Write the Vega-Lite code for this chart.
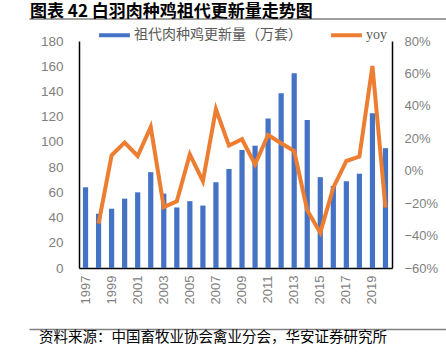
{
  "$schema": "https://vega.github.io/schema/vega-lite/v6.json",
  "padding": {"left": 29, "top": 2.5, "right": 0, "bottom": 0},
  "spacing": -3.5,
  "config": {
    "view": {"stroke": null},
    "font": "Noto Sans CJK SC"
  },
  "resolve": {"scale": {"x": "independent", "y": "independent", "color": "independent"}},
  "vconcat": [
    {
      "width": 417,
      "height": 0.01,
      "title": {
        "text": "图表 42 白羽肉种鸡祖代更新量走势图",
        "anchor": "start",
        "frame": "bounds",
        "fontSize": 17,
        "fontWeight": "bold",
        "font": "Noto Sans CJK SC",
        "color": "#000000",
        "offset": -2.5,
        "dx": -49
      },
      "data": {"values": [{"part": "header"}]},
      "mark": {"type": "rule", "opacity": 0, "strokeWidth": 0},
      "encoding": {
        "x": {
          "field": "part",
          "type": "nominal",
          "scale": {"range": [-50, 367], "paddingInner": 0, "paddingOuter": 0},
          "axis": {"orient": "bottom", "title": null, "labels": false, "ticks": false, "grid": false, "domainColor": "#7f7f7f", "domainWidth": 1.3}
        }
      }
    },
    {
      "width": 313,
      "height": 227,
      "data": {
        "values": [
          {"year": "1997", "count": 64, "yoy": null},
          {"year": "1998", "count": 43, "yoy": -0.326},
          {"year": "1999", "count": 47, "yoy": 0.095},
          {"year": "2000", "count": 55, "yoy": 0.173},
          {"year": "2001", "count": 60, "yoy": 0.091},
          {"year": "2002", "count": 76, "yoy": 0.27},
          {"year": "2003", "count": 59, "yoy": -0.224},
          {"year": "2004", "count": 48, "yoy": -0.189},
          {"year": "2005", "count": 53, "yoy": 0.101},
          {"year": "2006", "count": 49.5, "yoy": -0.064},
          {"year": "2007", "count": 68, "yoy": 0.379},
          {"year": "2008", "count": 78.5, "yoy": 0.155},
          {"year": "2009", "count": 93.6, "yoy": 0.194},
          {"year": "2010", "count": 97, "yoy": 0.039},
          {"year": "2011", "count": 118.5, "yoy": 0.22},
          {"year": "2012", "count": 138.5, "yoy": 0.169},
          {"year": "2013", "count": 154.4, "yoy": 0.121},
          {"year": "2014", "count": 117.4, "yoy": -0.244},
          {"year": "2015", "count": 72, "yoy": -0.382},
          {"year": "2016", "count": 65, "yoy": -0.105},
          {"year": "2017", "count": 68.8, "yoy": 0.06},
          {"year": "2018", "count": 74.8, "yoy": 0.087},
          {"year": "2019", "count": 122.7, "yoy": 0.646},
          {"year": "2020", "count": 95, "yoy": -0.228}
        ]
      },
      "encoding": {
        "x": {
          "field": "year",
          "type": "ordinal",
          "scale": {"paddingInner": 0.6, "paddingOuter": 0.3},
          "axis": {
            "title": null,
            "values": ["1997","1999","2001","2003","2005","2007","2009","2011","2013","2015","2017","2019"],
            "labelAngle": -90,
            "labelFontSize": 13,
            "labelFont": "Liberation Sans",
            "labelColor": "#7f7f7f",
            "ticks": false,
            "labelPadding": 7,
            "minExtent": 61,
            "domainColor": "#000000",
            "domainWidth": 1.5
          }
        }
      },
      "layer": [
        {
          "mark": {"type": "bar"},
          "encoding": {
            "y": {
              "field": "count",
              "type": "quantitative",
              "scale": {"domain": [0, 180]},
              "axis": {
                "title": null,
                "values": [0, 20, 40, 60, 80, 100, 120, 140, 160, 180],
                "grid": false,
                "ticks": false,
                "labelFontSize": 13.5,
                "labelFont": "Liberation Sans",
                "labelColor": "#7f7f7f",
                "labelPadding": 16,
                "minExtent": 50,
                "domainColor": "#000000",
                "domainWidth": 1.5
              }
            },
            "color": {
              "datum": "祖代肉种鸡更新量（万套）",
              "scale": {"domain": ["祖代肉种鸡更新量（万套）", "yoy"], "range": ["#4472C4", "#ED7D31"]},
              "legend": {
                "orient": "none",
                "legendX": 18,
                "legendY": -23.5,
                "direction": "horizontal",
                "title": null,
                "symbolType": "stroke",
                "symbolSize": 950,
                "symbolStrokeWidth": 4,
                "labelFontSize": 14,
                "labelColor": "#595959",
                "labelFont": "Liberation Serif, Noto Sans CJK SC",
                "labelLimit": 400,
                "columnPadding": 21,
                "labelOffset": 2,
                "padding": 0
              }
            }
          }
        },
        {
          "mark": {"type": "line", "strokeWidth": 4},
          "encoding": {
            "y": {
              "field": "yoy",
              "type": "quantitative",
              "scale": {"domain": [-0.6, 0.8]},
              "axis": {
                "orient": "right",
                "title": null,
                "format": ".0%",
                "values": [-0.6, -0.4, -0.2, 0, 0.2, 0.4, 0.6, 0.8],
                "grid": false,
                "ticks": false,
                "labelFontSize": 13,
                "labelFont": "Liberation Sans",
                "labelColor": "#7f7f7f",
                "labelPadding": 12,
                "domainColor": "#000000",
                "domainWidth": 1.5
              }
            },
            "color": {"datum": "yoy"}
          }
        }
      ],
      "resolve": {"scale": {"y": "independent"}}
    },
    {
      "width": 417,
      "height": 0.01,
      "title": {
        "text": "资料来源：中国畜牧业协会禽业分会，华安证券研究所",
        "orient": "bottom",
        "anchor": "start",
        "frame": "bounds",
        "fontSize": 14.5,
        "fontWeight": "normal",
        "font": "Noto Sans CJK SC",
        "color": "#000000",
        "offset": 2,
        "dx": -40
      },
      "data": {"values": [{"part": "footer"}]},
      "mark": {"type": "rule", "opacity": 0, "strokeWidth": 0},
      "encoding": {
        "x": {
          "field": "part",
          "type": "nominal",
          "scale": {"range": [-50, 367], "paddingInner": 0, "paddingOuter": 0},
          "axis": {"orient": "top", "title": null, "labels": false, "ticks": false, "grid": false, "domainColor": "#7f7f7f", "domainWidth": 1.5}
        }
      }
    }
  ]
}
